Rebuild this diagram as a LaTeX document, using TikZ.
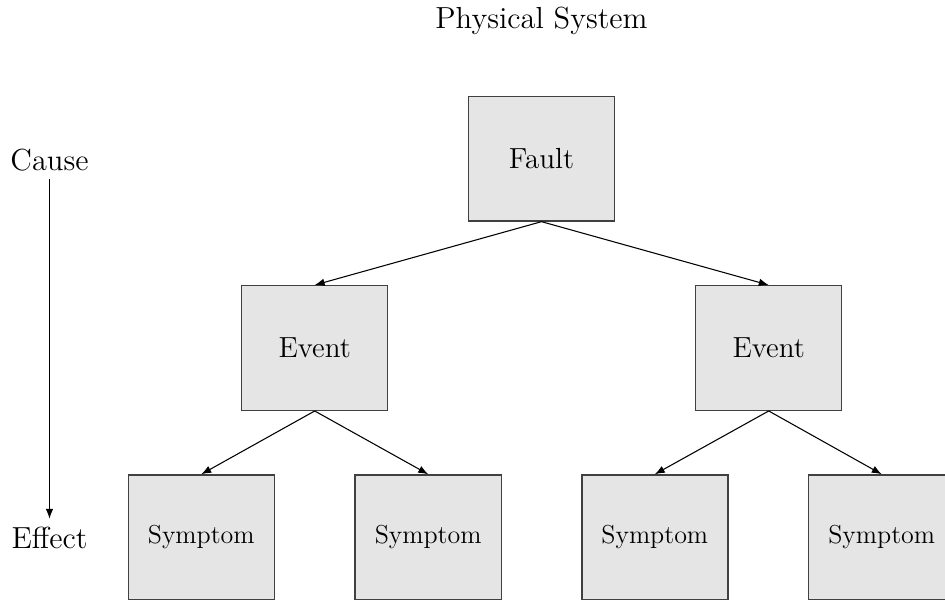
\documentclass[tikz,border=0pt]{standalone}
\usepackage{fontspec}
\usetikzlibrary{arrows.meta}
\tikzset{
  blockbox/.style={draw=black!75, line width=0.6pt, fill=black!10, inner sep=0pt,
    minimum width=61.8pt, minimum height=52.7pt},
  bigtext/.style={font=\fontsize{12.3}{14}\selectfont},
  smalltext/.style={font=\fontsize{11}{13}\selectfont},
  sidetext/.style={font=\fontsize{12.9}{15}\selectfont},
  link/.style={-{Latex[length=4.2pt,width=3.2pt]}, line width=0.45pt},
}
\begin{document}
\begin{tikzpicture}[x=0.42328pt, y=-0.42328pt]
  \useasboundingbox (0,0) rectangle (945,601);
  \clip (0,0) rectangle (945,601);

  \node[sidetext] (title) at (541.5,21) {Physical System};

  % tree of boxes
  \node[blockbox, bigtext] (fault) at (541.5,158.7) {Fault};
  \node[blockbox, bigtext] (evl) at (314.7,348) {Event};
  \node[blockbox, bigtext] (evr) at (768.7,348) {Event};
  \node[blockbox, smalltext] (s1) at (201.3,537.2) {Symptom};
  \node[blockbox, smalltext] (s2) at (428.2,537.2) {Symptom};
  \node[blockbox, smalltext] (s3) at (654.8,537.2) {Symptom};
  \node[blockbox, smalltext] (s4) at (881.7,537.2) {Symptom};

  \draw[link] (fault.south) -- (evl.north);
  \draw[link] (fault.south) -- (evr.north);
  \draw[link] (evl.south) -- (s1.north);
  \draw[link] (evl.south) -- (s2.north);
  \draw[link] (evr.south) -- (s3.north);
  \draw[link] (evr.south) -- (s4.north);

  % cause-to-effect axis
  \node[sidetext] (cause) at (49.5,160) {Cause};
  \node[sidetext] (effect) at (49.5,538) {Effect};
  \draw[link] (cause.south) -- (effect.north);
\end{tikzpicture}
\end{document}
